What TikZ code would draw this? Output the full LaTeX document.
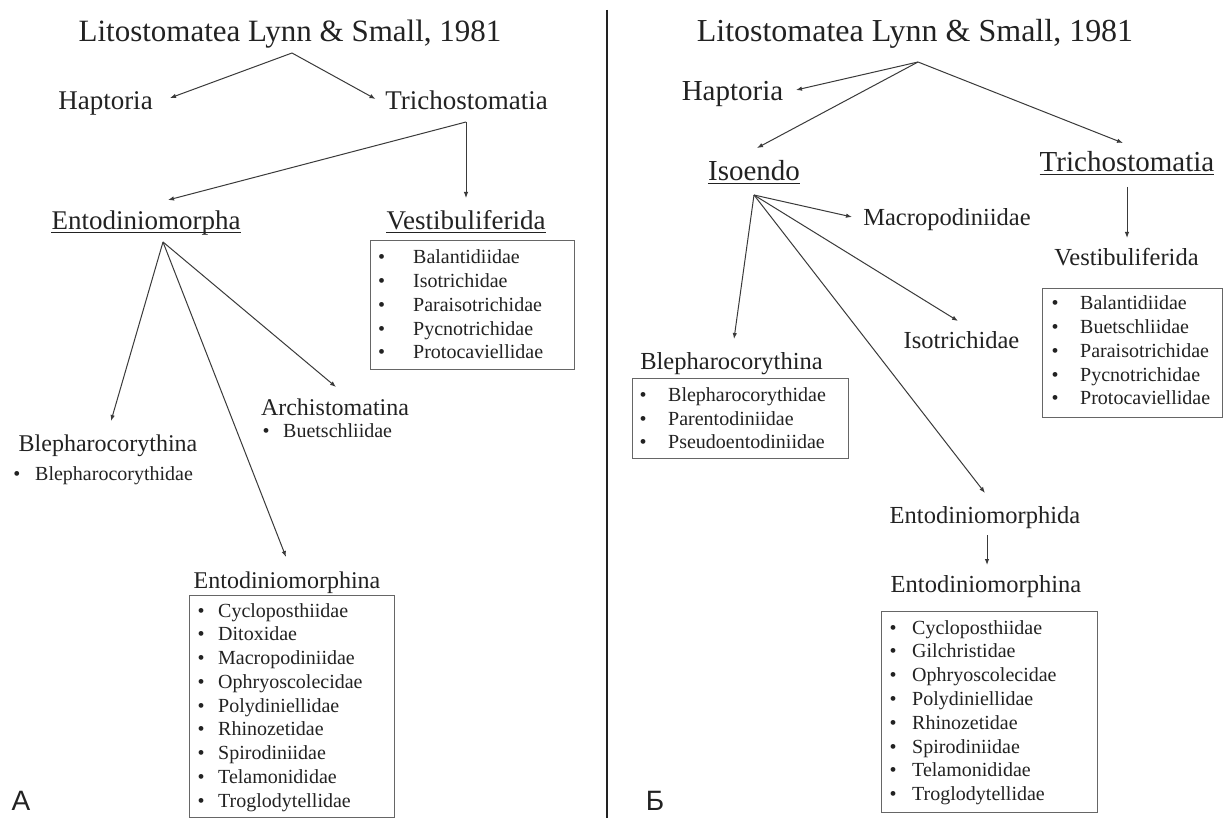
\documentclass[tikz,border=0pt]{standalone}
\usepackage{fontspec}
\setmainfont{Liberation Serif}
\newfontfamily\panelsans{Liberation Sans}
\usetikzlibrary{arrows.meta}
\definecolor{ink}{HTML}{222222}
\definecolor{wire}{HTML}{3A3A3A}
\definecolor{boxline}{HTML}{666666}
\begin{document}
\begin{tikzpicture}[x=1pt,y=-1pt,
  txt/.style={inner sep=0pt, text=ink, anchor=base},
  ttl/.style={txt, font=\fontsize{31}{36}\selectfont},
  ttlR/.style={txt, font=\fontsize{32}{36}\selectfont},
  lvA/.style={txt, font=\fontsize{27}{32}\selectfont},
  lvAR/.style={txt, font=\fontsize{29}{34}\selectfont},
  lvB/.style={txt, font=\fontsize{24}{28}\selectfont},
  lvBR/.style={txt, font=\fontsize{24.5}{28}\selectfont},
  bul/.style={txt, font=\fontsize{20}{24}\selectfont},
  entry/.style={txt, anchor=base west, font=\fontsize{20}{24}\selectfont},
  link/.style={draw=wire, line width=1pt, -{Latex[length=6pt,width=4.5pt]}},
  uline/.style={draw=ink, line width=1pt},
  listbox/.style={draw=boxline, line width=1.3pt, inner sep=0pt, anchor=north west},
  panel/.style={txt, font=\panelsans\fontsize{28}{32}\selectfont}
]
\useasboundingbox (0,0) rectangle (1227,818);
\fill[white] (0,0) rectangle (1227,818);

% divider
\coordinate (divtop) at (607,10);
\coordinate (divbot) at (607,818);
\draw[line width=2.6pt, ink] (divtop) -- (divbot);

%================ LEFT PANEL =================
\node[ttl] (titleL) at (290,42) {Litostomatea Lynn \& Small, 1981};
\node[lvA] (hapL) at (105.5,110) {Haptoria};
\node[lvA] (triL) at (466.5,110) {Trichostomatia};
\coordinate (apexL) at (292,53);
\coordinate (hapLtip) at (170,98);
\coordinate (triLtip) at (375.5,99);
\draw[link] (apexL) -- (hapLtip);
\draw[link] (apexL) -- (triLtip);

\node[lvA] (entoA) at (146,230) {Entodiniomorpha};
\node[lvA] (vestL) at (466,230) {Vestibuliferida};
\draw[uline] ([yshift=-3pt]entoA.base west) -- ([yshift=-3pt]entoA.base east);
\draw[uline] ([yshift=-3pt]vestL.base west) -- ([yshift=-3pt]vestL.base east);
\coordinate (cornerL) at (466,122);
\coordinate (entoAtip) at (168,200);
\coordinate (vestLtip) at (466,198);
\draw[link] (cornerL) -- (entoAtip);
\draw[link] (cornerL) -- (vestLtip);

\node[listbox, minimum width=204pt, minimum height=129pt] (vestLbox) at (370,240) {};
\foreach \t [count=\i] in {Balantidiidae,Isotrichidae,Paraisotrichidae,Pycnotrichidae,Protocaviellidae}{
  \node[bul] (vLb\i) at (381.5,{264+23.75*(\i-1)}) {•};
  \node[entry] (vL\i) at (413,{264+23.75*(\i-1)}) {\t};
}

\coordinate (entoAorig) at (163,242);
\node[lvB] (archL) at (335,416) {Archistomatina};
\node[bul] (archb) at (266,438) {•};
\node[entry] (arch1) at (283,438) {Buetschliidae};
\node[lvB] (blephL) at (108,451) {Blepharocorythina};
\node[bul] (blephb) at (17,480) {•};
\node[entry] (bleph1) at (35,480) {Blepharocorythidae};
\node[lvB] (entoinaL) at (287,588) {Entodiniomorphina};
\coordinate (archtip) at (336,387);
\coordinate (blephLtip) at (111,421);
\coordinate (entoinaLtip) at (286,557);
\draw[link] (entoAorig) -- (blephLtip);
\draw[link] (entoAorig) -- (entoinaLtip);
\draw[link] (entoAorig) -- (archtip);

\node[listbox, minimum width=205pt, minimum height=222pt] (entoLbox) at (189,595) {};
\foreach \t [count=\i] in {Cycloposthiidae,Ditoxidae,Macropodiniidae,Ophryoscolecidae,Polydiniellidae,Rhinozetidae,Spirodiniidae,Telamonididae,Troglodytellidae}{
  \node[bul] (eLb\i) at (201,{617+23.75*(\i-1)}) {•};
  \node[entry] (eL\i) at (218,{617+23.75*(\i-1)}) {\t};
}
\node[panel] (panelA) at (21,810) {A};

%================ RIGHT PANEL =================
\node[ttlR] (titleR) at (915,42) {Litostomatea Lynn \& Small, 1981};
\coordinate (apexR) at (918,62);
\node[lvAR] (hapR) at (732.5,101) {Haptoria};
\coordinate (hapRtip) at (796,90);
\draw[link] (apexR) -- (hapRtip);

\node[lvAR] (isoendo) at (754,181) {Isoendo};
\draw[uline] ([yshift=-3pt]isoendo.base west) -- ([yshift=-3pt]isoendo.base east);
\node[lvAR] (triR) at (1127,172) {Trichostomatia};
\draw[uline] ([yshift=-3pt]triR.base west) -- ([yshift=-3pt]triR.base east);
\coordinate (isoendotip) at (757,148);
\coordinate (triRtip) at (1123,143);
\draw[link] (apexR) -- (isoendotip);
\draw[link] (apexR) -- (triRtip);

\node[lvBR] (vestR) at (1126.5,266) {Vestibuliferida};
\coordinate (triRorig) at (1127,187);
\coordinate (vestRtip) at (1127,238);
\draw[link] (triRorig) -- (vestRtip);
\node[listbox, minimum width=180pt, minimum height=129pt] (vestRbox) at (1042,288) {};
\foreach \t [count=\i] in {Balantidiidae,Buetschliidae,Paraisotrichidae,Pycnotrichidae,Protocaviellidae}{
  \node[bul] (vRb\i) at (1055,{310+23.75*(\i-1)}) {•};
  \node[entry] (vR\i) at (1080,{310+23.75*(\i-1)}) {\t};
}

\coordinate (isoorig) at (754,195);
\node[lvBR] (macroR) at (947,226) {Macropodiniidae};
\node[lvBR] (isotriR) at (961.5,349) {Isotrichidae};
\node[lvBR] (blephR) at (731.5,370) {Blepharocorythina};
\node[lvBR] (entophida) at (985,523) {Entodiniomorphida};
\coordinate (macroRtip) at (852,217);
\coordinate (isotriRtip) at (958,321);
\coordinate (blephRtip) at (734,339);
\coordinate (entophidatip) at (985,493);
\draw[link] (isoorig) -- (macroRtip);
\draw[link] (isoorig) -- (isotriRtip);
\draw[link] (isoorig) -- (blephRtip);
\draw[link] (isoorig) -- (entophidatip);

\node[listbox, minimum width=216pt, minimum height=80pt] (blephRbox) at (632,378) {};
\foreach \t [count=\i] in {Blepharocorythidae,Parentodiniidae,Pseudoentodiniidae}{
  \node[bul] (bRb\i) at (643,{402+23.5*(\i-1)}) {•};
  \node[entry] (bR\i) at (668,{402+23.5*(\i-1)}) {\t};
}

\node[lvBR] (entoinaR) at (986,592) {Entodiniomorphina};
\coordinate (entophidaorig) at (987,535);
\coordinate (entoinaRtip) at (987,565);
\draw[link] (entophidaorig) -- (entoinaRtip);
\node[listbox, minimum width=216pt, minimum height=201pt] (entoRbox) at (881,611) {};
\foreach \t [count=\i] in {Cycloposthiidae,Gilchristidae,Ophryoscolecidae,Polydiniellidae,Rhinozetidae,Spirodiniidae,Telamonididae,Troglodytellidae}{
  \node[bul] (eRb\i) at (893,{634+23.8*(\i-1)}) {•};
  \node[entry] (eR\i) at (912,{634+23.8*(\i-1)}) {\t};
}
\node[panel] (panelB) at (655,810) {Б};
\end{tikzpicture}
\end{document}
